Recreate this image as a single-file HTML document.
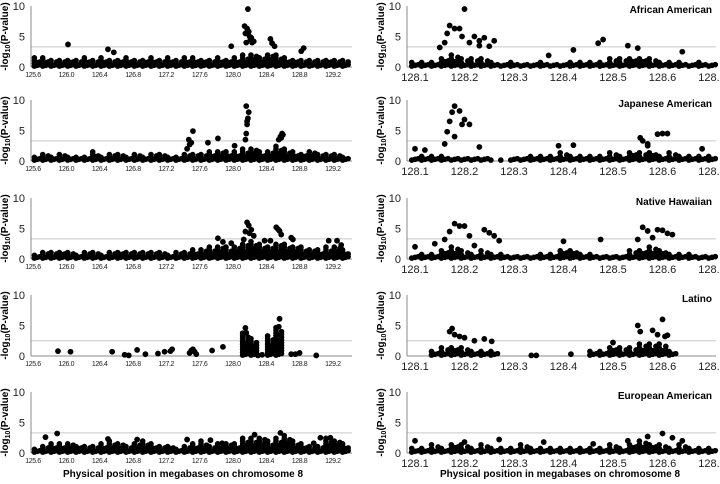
<!DOCTYPE html>
<html><head><meta charset="utf-8"><style>
html,body{margin:0;padding:0;background:#fff;}
svg{display:block;font-family:"Liberation Sans",sans-serif;}
</style></head><body>
<svg id="chart" width="720" height="484" viewBox="0 0 720 484" xmlns="http://www.w3.org/2000/svg">
<text x="183" y="477" font-size="10" font-weight="bold" text-anchor="middle">Physical position in megabases on chromosome 8</text>
<text x="560" y="477" font-size="10" font-weight="bold" text-anchor="middle">Physical position in megabases on chromosome 8</text>
</svg>
<script>
const panelTops = [6, 100, 198, 295, 392];
const groupNames = ["African American","Japanese American","Native Hawaiian","Latino","European American"];
const thresholds = [3.3,3.3,3.3,2.5,3.3];
const leftTicks = ["125.6","126.0","126.4","126.8","127.2","127.6","128.0","128.4","128.8","129.2"];
const rightTicks = ["128.1","128.2","128.3","128.4","128.5","128.6","128.7"];
const yTicks = [0,5,10];

const leftBand = [
[1.5,1.6,1.3,1.2,1.4,1.3,1.5,1.2,1.6,1.3,1.4,1.5,1.2,1.4,1.6,1.3,1.5,1.2,1.5,1.6,1.4,1.3,1.5,1.4,1.5,2.0,2.3,1.8,2.2,2.0,1.6,1.4,1.3,1.2,1.2,1.4,1.3,1.2],
[1.0,1.2,1.0,1.1,1.0,1.0,0.9,1.5,1.0,1.1,1.2,1.0,1.1,1.0,1.2,1.1,0.9,1.0,1.1,1.2,1.3,1.5,1.8,1.6,1.5,2.0,2.2,1.6,1.8,2.5,2.0,1.6,1.4,1.8,1.2,1.1,1.2,1.0],
[1.0,1.3,1.2,1.4,1.2,1.0,1.1,1.3,1.0,1.2,1.4,1.3,1.2,1.1,1.3,1.2,1.0,1.2,1.3,1.5,1.8,2.0,2.2,2.0,2.2,2.8,3.0,2.5,2.2,2.8,2.5,2.2,2.0,1.8,1.5,2.0,2.2,1.5],
[0,0,0,0,0,0,0,0,0,0,0,0,0,0,0,0,0,0,0,0,0,0,0,0,0,4.0,3.0,0,3.5,5.0,0,0,0,0,0,0,0,0],
[1.0,1.3,1.5,1.6,1.8,1.4,1.2,1.2,1.6,2.0,1.8,1.2,1.8,2.0,1.5,1.2,1.4,1.0,1.2,1.6,2.0,1.2,1.5,1.8,1.5,2.4,2.4,2.8,2.0,2.5,3.0,2.0,1.5,1.2,1.2,2.5,2.2,1.5]];
const leftPeakX = [
[126.02,126.5,126.57,127.98,128.14,128.15,128.16,128.17,128.18,128.19,128.2,128.21,128.22,128.23,128.25,128.45,128.47,128.5,128.85,128.82],
[127.45,127.47,127.5,127.52,127.7,127.82,128.02,128.15,128.16,128.17,128.18,128.19,128.16,128.17,128.55,128.57,128.59,128.58,128.6,127.48],
[127.82,127.88,127.98,128.13,128.15,128.17,128.19,128.2,128.22,128.25,128.38,128.45,128.52,128.54,128.56,128.58,128.7,128.72,129.15,129.25,129.3],
[125.9,126.05,126.55,126.7,126.75,126.85,126.95,127.1,127.18,127.25,127.27,127.48,127.5,127.52,127.54,127.56,127.75,127.88,128.3,128.35,128.7,128.75,128.8,129.0,128.15,128.16,128.55,128.56,128.57],
[125.75,125.89,126.5,126.85,127.45,127.73,127.87,128.26,128.57,128.97,129.05,129.17]];
const leftPeakY = [
[3.7,2.9,2.4,3.4,6.7,5.5,4.0,6.3,9.5,5.8,5.0,4.5,4.8,4.0,4.2,4.6,3.9,3.4,3.1,2.6],
[2.0,3.5,3.0,4.9,3.0,3.7,2.5,3.5,4.5,6.0,7.0,8.0,9.0,6.5,3.5,4.0,4.5,3.8,4.3,2.7],
[3.4,2.8,2.6,3.2,4.5,6.0,5.5,4.2,4.8,3.8,3.0,3.0,5.2,4.9,4.6,4.0,3.5,3.2,3.0,3.0,2.3],
[0.8,0.7,0.7,0.2,0.1,1.0,0.3,0.4,0.7,0.8,1.1,0.5,0.9,1.1,0.7,0.3,0.9,1.5,0.1,0.2,0.3,0.3,0.5,0.1,4.6,3.8,4.8,6.1,3.5],
[2.6,3.2,2.3,2.2,2.2,2.1,1.6,3.0,3.3,1.6,2.5,2.5]];

const rightBand = [
[0.8,1.0,1.2,1.8,2.0,1.5,1.5,1.5,1.2,0.6,0.8,0.6,0.7,0.8,0.6,0.5,1.0,1.0,1.2,1.2,1.4,1.5,1.8,1.6,1.4,1.2,1.0,1.0,0.6,0.8,0.6],
[0.5,1.0,1.0,0.8,0.6,0.7,0.5,0.5,0.4,0.4,0.5,0.6,0.8,0.8,1.0,1.5,1.2,1.2,1.0,1.2,1.5,1.2,1.6,1.5,1.8,1.2,1.4,1.2,1.2,1.0,0.8],
[0.6,0.8,1.2,1.8,2.2,1.5,1.2,1.5,1.2,0.9,0.6,0.6,0.6,0.8,1.0,1.6,1.8,1.2,0.8,0.6,0.6,0.6,1.5,1.8,2.0,1.8,1.2,1.0,0.8,0.6,0.6],
[0,0,1.0,1.5,1.8,1.5,1.2,1.0,1.0,0,0,0,0,0,0,0,0,0,1.0,1.2,1.8,1.5,1.5,2.0,2.5,2.5,0.8,0,0,0,0],
[1.0,1.2,1.5,1.2,1.8,1.4,1.0,1.5,1.2,1.0,1.2,1.4,1.0,0.8,1.2,1.0,1.0,0.8,1.0,1.2,1.5,1.2,1.8,2.0,1.8,1.5,1.2,1.4,1.2,1.0,1.0]];
const rightPeakX = [
[128.15,128.16,128.165,128.17,128.18,128.19,128.2,128.195,128.21,128.22,128.23,128.24,128.25,128.26,128.23,128.42,128.47,128.48,128.53,128.55,128.64,128.37],
[128.1,128.12,128.16,128.165,128.17,128.175,128.18,128.19,128.195,128.2,128.18,128.21,128.23,128.39,128.42,128.555,128.56,128.57,128.59,128.6,128.61,128.57,128.68],
[128.1,128.14,128.16,128.17,128.18,128.19,128.2,128.21,128.22,128.24,128.25,128.26,128.27,128.4,128.475,128.55,128.56,128.57,128.59,128.6,128.61,128.62,128.58],
[128.17,128.175,128.18,128.19,128.2,128.22,128.24,128.255,128.335,128.345,128.415,128.5,128.55,128.555,128.58,128.59,128.6,128.61,128.605],
[128.1,128.2,128.27,128.36,128.46,128.53,128.57,128.6,128.62,128.64]];
const rightPeakY = [
[3.2,4.0,5.5,6.8,6.3,6.3,9.5,5.0,4.0,5.0,4.3,4.8,3.4,4.3,3.5,2.8,3.9,4.5,3.5,3.1,2.5,1.9],
[2.0,1.8,2.8,4.8,6.5,8.0,9.0,8.2,6.0,6.8,4.0,6.0,2.3,2.5,2.6,3.8,3.3,2.8,4.4,4.5,4.5,2.5,2.0],
[2.0,2.5,3.2,4.5,5.8,5.4,5.4,3.8,2.2,4.8,4.3,3.8,3.0,2.9,3.2,3.2,5.2,4.6,4.8,4.7,4.2,4.0,3.5],
[4.0,4.5,3.5,3.2,3.0,2.5,2.8,2.4,0.1,0.1,0.3,2.2,5.0,4.0,4.2,3.5,6.0,3.4,3.2],
[2.0,1.8,2.2,1.8,1.5,2.0,2.7,3.2,2.5,2.0]];

const NS = "http://www.w3.org/2000/svg";
const svg = document.getElementById('chart');
function mk(tag, attrs, parent){ const e=document.createElementNS(NS,tag); for(const k in attrs) e.setAttribute(k,attrs[k]); (parent||svg).appendChild(e); return e; }
const PH = 61;
const xL = v => 33 + (v - 125.6) * 83.3;
const xR = v => 415 + (v - 128.1) * 495;

function panel(side, i){
  const top = panelTops[i], y0 = top + PH;
  const yS = v => y0 - v * PH / 10;
  const isL = side === 'L';
  const xS = isL ? xL : xR;
  const axX = isL ? 31 : 407, axEnd = isL ? 352 : 716;
  const g = mk('g', {});
  
  
  const th = mk('line', {x1:axX, x2:axEnd, y1:yS(thresholds[i]), y2:yS(thresholds[i]), stroke:'#c8c8c8', 'stroke-width':1}, g);
  
  
  const ya = mk('line', {x1:axX, x2:axX, y1:top, y2:y0, stroke:'#888', 'stroke-width':1}, g);
  
  
  const xa = mk('line', {x1:axX, x2:axEnd, y1:y0, y2:y0, stroke:'#888', 'stroke-width':1}, g);
  
  
  yTicks.forEach(t => {
    const tl = mk('text', {x:axX-6, y:yS(t)+4, 'font-size':11, 'text-anchor':'end', fill:'#222'}, g);
    tl.textContent = t;
    
    
  });
  const yt = mk('text', {x:0, y:0, 'font-size':10, 'font-weight':'bold', 'text-anchor':'middle', transform:`translate(${axX-23},${top+PH/2}) rotate(-90)`}, g);
  yt.innerHTML = '-log<tspan font-size="7" dy="2">10</tspan><tspan dy="-2">(P-value)</tspan>';
  
  
  const ticks = isL ? leftTicks : rightTicks;
  ticks.forEach(t => {
    const tl = mk('text', {x:xS(parseFloat(t)), y: y0 + (isL ? 10 : 14), 'font-size': isL ? 7 : 11, 'text-anchor':'middle', fill:'#222', 'letter-spacing': isL ? '-0.4' : '0'}, g);
    tl.textContent = t;
    
    
  });
  if(!isL){
    const nm = mk('text', {x:712, y:top+7, 'font-size':10, 'font-weight':'bold', 'text-anchor':'end'}, g);
    nm.textContent = groupNames[i];
    
    
  }
  const band = isL ? leftBand[i] : rightBand[i];
  const start = isL ? 125.65 : 128.1, step = isL ? 0.1 : 0.02;
  const fac = [1, 0.55, 0.8];
  const vstep = isL ? 0.45 : 0.6;
  band.forEach((h, k) => {
    if (h <= 0) return;
    for (let c = 0; c < 3; c++) {
      const xv = start + k * step + (c - 1) * step / 3;
      const hh = h * fac[c];
      for (let v = 0.15 + c * 0.12; v <= hh; v += vstep) {
        const d = mk('circle', {cx:xS(xv), cy:yS(v), r:2.8, fill:'#000'}, g);
        
        
      }
    }
  });
  const px = isL ? leftPeakX[i] : rightPeakX[i];
  const py = isL ? leftPeakY[i] : rightPeakY[i];
  px.forEach((xv, k) => {
    const d = mk('circle', {cx:xS(xv), cy:yS(py[k]), r:2.9, fill:'#000'}, g);
    
    
  });
}
for (let i = 0; i < 5; i++) { panel('L', i); panel('R', i); }
</script>
</body></html>
